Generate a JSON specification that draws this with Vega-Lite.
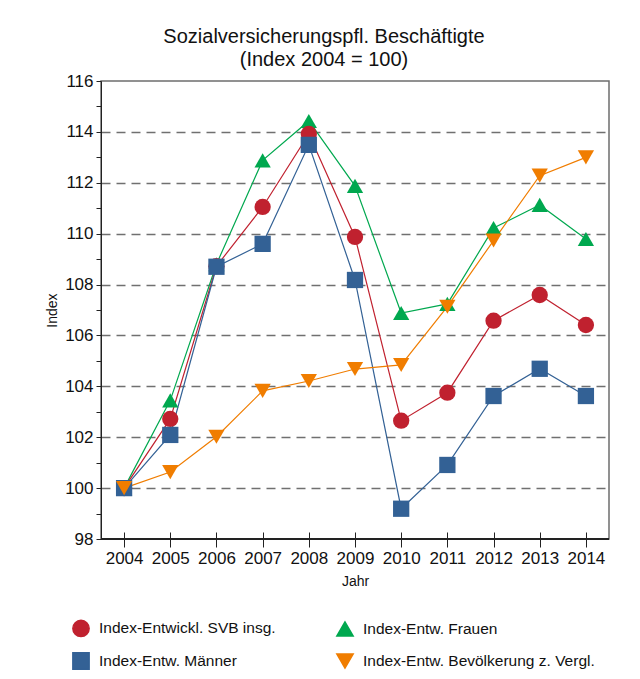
{
  "$schema": "https://vega.github.io/schema/vega-lite/v6.json",
  "width": 508,
  "height": 458,
  "autosize": {"type": "none"},
  "padding": {"left": 101, "top": 81, "right": 31, "bottom": 140},
  "background": "white",
  "config": {
    "font": "Liberation Sans",
    "view": {"stroke": "#6e6e6e", "strokeWidth": 1.5}
  },
  "title": {
    "text": ["Sozialversicherungspfl. Beschäftigte", "(Index 2004 = 100)"],
    "fontSize": 20,
    "fontWeight": "normal",
    "lineHeight": 23,
    "color": "#111",
    "anchor": "middle",
    "dx": -31,
    "offset": 2
  },
  "data": {
    "values": [
      {"Jahr": 2004, "Reihe": "Index-Entw. Frauen", "Index": 100},
      {"Jahr": 2005, "Reihe": "Index-Entw. Frauen", "Index": 103.45},
      {"Jahr": 2006, "Reihe": "Index-Entw. Frauen", "Index": 108.8},
      {"Jahr": 2007, "Reihe": "Index-Entw. Frauen", "Index": 112.88},
      {"Jahr": 2008, "Reihe": "Index-Entw. Frauen", "Index": 114.43},
      {"Jahr": 2009, "Reihe": "Index-Entw. Frauen", "Index": 111.88},
      {"Jahr": 2010, "Reihe": "Index-Entw. Frauen", "Index": 106.88},
      {"Jahr": 2011, "Reihe": "Index-Entw. Frauen", "Index": 107.24},
      {"Jahr": 2012, "Reihe": "Index-Entw. Frauen", "Index": 110.22},
      {"Jahr": 2013, "Reihe": "Index-Entw. Frauen", "Index": 111.13},
      {"Jahr": 2014, "Reihe": "Index-Entw. Frauen", "Index": 109.79},
      {"Jahr": 2004, "Reihe": "Index-Entwickl. SVB insg.", "Index": 100},
      {"Jahr": 2005, "Reihe": "Index-Entwickl. SVB insg.", "Index": 102.72},
      {"Jahr": 2006, "Reihe": "Index-Entwickl. SVB insg.", "Index": 108.72},
      {"Jahr": 2007, "Reihe": "Index-Entwickl. SVB insg.", "Index": 111.05},
      {"Jahr": 2008, "Reihe": "Index-Entwickl. SVB insg.", "Index": 113.92},
      {"Jahr": 2009, "Reihe": "Index-Entwickl. SVB insg.", "Index": 109.87},
      {"Jahr": 2010, "Reihe": "Index-Entwickl. SVB insg.", "Index": 102.65},
      {"Jahr": 2011, "Reihe": "Index-Entwickl. SVB insg.", "Index": 103.75},
      {"Jahr": 2012, "Reihe": "Index-Entwickl. SVB insg.", "Index": 106.58},
      {"Jahr": 2013, "Reihe": "Index-Entwickl. SVB insg.", "Index": 107.59},
      {"Jahr": 2014, "Reihe": "Index-Entwickl. SVB insg.", "Index": 106.41},
      {"Jahr": 2004, "Reihe": "Index-Entw. Männer", "Index": 100},
      {"Jahr": 2005, "Reihe": "Index-Entw. Männer", "Index": 102.09},
      {"Jahr": 2006, "Reihe": "Index-Entw. Männer", "Index": 108.7},
      {"Jahr": 2007, "Reihe": "Index-Entw. Männer", "Index": 109.6},
      {"Jahr": 2008, "Reihe": "Index-Entw. Männer", "Index": 113.49},
      {"Jahr": 2009, "Reihe": "Index-Entw. Männer", "Index": 108.18},
      {"Jahr": 2010, "Reihe": "Index-Entw. Männer", "Index": 99.19},
      {"Jahr": 2011, "Reihe": "Index-Entw. Männer", "Index": 100.91},
      {"Jahr": 2012, "Reihe": "Index-Entw. Männer", "Index": 103.62},
      {"Jahr": 2013, "Reihe": "Index-Entw. Männer", "Index": 104.69},
      {"Jahr": 2014, "Reihe": "Index-Entw. Männer", "Index": 103.62},
      {"Jahr": 2004, "Reihe": "Index-Entw. Bevölkerung z. Vergl.", "Index": 100},
      {"Jahr": 2005, "Reihe": "Index-Entw. Bevölkerung z. Vergl.", "Index": 100.63},
      {"Jahr": 2006, "Reihe": "Index-Entw. Bevölkerung z. Vergl.", "Index": 102.02},
      {"Jahr": 2007, "Reihe": "Index-Entw. Bevölkerung z. Vergl.", "Index": 103.82},
      {"Jahr": 2008, "Reihe": "Index-Entw. Bevölkerung z. Vergl.", "Index": 104.21},
      {"Jahr": 2009, "Reihe": "Index-Entw. Bevölkerung z. Vergl.", "Index": 104.68},
      {"Jahr": 2010, "Reihe": "Index-Entw. Bevölkerung z. Vergl.", "Index": 104.84},
      {"Jahr": 2011, "Reihe": "Index-Entw. Bevölkerung z. Vergl.", "Index": 107.13},
      {"Jahr": 2012, "Reihe": "Index-Entw. Bevölkerung z. Vergl.", "Index": 109.73},
      {"Jahr": 2013, "Reihe": "Index-Entw. Bevölkerung z. Vergl.", "Index": 112.28},
      {"Jahr": 2014, "Reihe": "Index-Entw. Bevölkerung z. Vergl.", "Index": 113.0}
    ]
  },
  "encoding": {
    "x": {
      "field": "Jahr",
      "type": "ordinal",
      "scale": {"type": "point", "padding": 0.5},
      "axis": {
        "title": "Jahr",
        "labelAngle": 0,
        "domain": false,
        "offset": -7,
        "tickSize": 15,
        "tickColor": "#222",
        "tickWidth": 1,
        "labelFontSize": 17,
        "labelColor": "#111",
        "labelPadding": 3,
        "titleFontSize": 14,
        "titleFontWeight": "normal",
        "titleColor": "#111",
        "titlePadding": 8
      }
    },
    "y": {
      "field": "Index",
      "type": "quantitative",
      "scale": {"domain": [98, 116], "nice": false, "zero": false},
      "axis": {
        "title": "Index",
        "values": [98, 99, 100, 101, 102, 103, 104, 105, 106, 107, 108, 109, 110, 111, 112, 113, 114, 115, 116],
        "labelExpr": "datum.value % 2 == 0 ? datum.label : ''",
        "grid": true,
        "gridDash": [9, 6],
        "gridColor": "#707070",
        "gridWidth": 1.6,
        "gridOpacity": {"condition": {"test": "datum.value % 2 == 0 && datum.value > 98 && datum.value < 116", "value": 1}, "value": 0},
        "domainColor": "#222",
        "tickColor": "#222",
        "tickSize": 5,
        "labelFontSize": 17,
        "labelColor": "#111",
        "labelPadding": 3,
        "titleFontSize": 14,
        "titleFontWeight": "normal",
        "titleColor": "#111",
        "titlePadding": 5
      }
    },
    "color": {
      "field": "Reihe",
      "type": "nominal",
      "scale": {
        "domain": ["Index-Entwickl. SVB insg.", "Index-Entw. Frauen", "Index-Entw. Männer", "Index-Entw. Bevölkerung z. Vergl."],
        "range": ["#C0212F", "#00A84F", "#336195", "#F07D00"]
      },
      "legend": {
        "orient": "none",
        "legendX": -29,
        "legendY": 538,
        "direction": "horizontal",
        "columns": 2,
        "title": null,
        "symbolSize": 265,
        "labelFontSize": 15.5,
        "labelColor": "#111",
        "labelOffset": 9,
        "columnPadding": 57,
        "rowPadding": 9,
        "labelLimit": 400
      }
    }
  },
  "layer": [
    {
      "mark": {"type": "rule", "color": "#222", "strokeWidth": 1},
      "encoding": {"x": {"value": 0}, "x2": {"value": 508}, "y": {"datum": 98}, "color": {"value": "#222"}}
    },
    {
      "mark": {"type": "line", "strokeWidth": 1.2}
    },
    {
      "mark": {"type": "point", "filled": true, "size": 265, "opacity": 1},
      "encoding": {
        "shape": {
          "field": "Reihe",
          "type": "nominal",
          "scale": {
            "domain": ["Index-Entwickl. SVB insg.", "Index-Entw. Frauen", "Index-Entw. Männer", "Index-Entw. Bevölkerung z. Vergl."],
            "range": ["circle", "triangle-up", "square", "triangle-down"]
          },
          "legend": {
            "orient": "none",
            "legendX": -29,
            "legendY": 538,
            "direction": "horizontal",
            "columns": 2,
            "title": null,
            "symbolSize": 265,
            "labelFontSize": 15.5,
            "labelColor": "#111",
            "labelOffset": 9,
            "columnPadding": 57,
            "rowPadding": 9,
            "labelLimit": 400
          }
        }
      }
    }
  ]
}
